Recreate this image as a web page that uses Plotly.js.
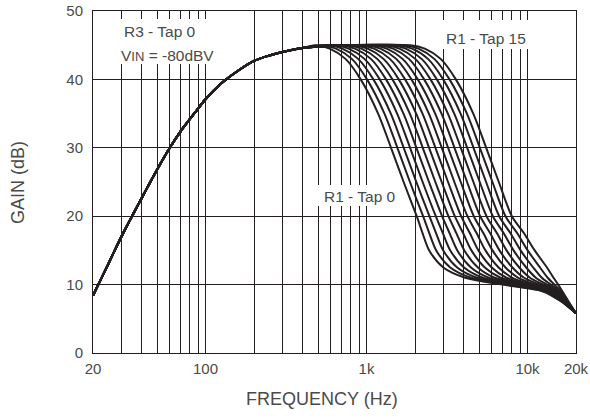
<!DOCTYPE html>
<html>
<head>
<meta charset="utf-8">
<script src="https://cdn.plot.ly/plotly-3.0.1.min.js"></script>
<style>
  html, body { margin: 0; padding: 0; background: #fff; }
  #chart { width: 590px; height: 418px; }
</style>
</head>
<body>
<div id="chart"></div>
<script>
// ---- Data ----
// Shared low-frequency rise (all taps identical here)
const riseFreq = [20, 25, 30, 40, 50, 60, 70, 85, 100, 125, 160, 200, 250, 300, 400];
const riseGain = [8.4, 13.1, 17.0, 22.6, 26.8, 30.0, 32.4, 35.0, 37.1, 39.4, 41.3, 42.7, 43.5, 44.0, 44.6];

// Gain levels of the roll-off, and the frequency (Hz) at which each tap reaches them
const dropGain = [45.0, 44.5, 43, 40, 35, 30, 25, 20, 17.5, 15, 12.5, 11, 10, 9, 7.6, 5.8];
const tap0  = [480, 590, 740, 920, 1180, 1420, 1700, 2050, 2230, 2450, 3000, 4100, 7000, 12500, 16000, 20000];
const tap1  = [526, 646, 810, 1007, 1292, 1555, 1861, 2245, 2456, 2709, 3311, 4460, 7381, 12733, 16120, 20000];
const tap2  = [575, 707, 887, 1103, 1415, 1702, 2038, 2458, 2706, 2996, 3655, 4852, 7782, 12969, 16240, 20000];
const tap3  = [630, 774, 971, 1208, 1549, 1864, 2231, 2691, 2981, 3313, 4035, 5279, 8205, 13210, 16360, 20000];
const tap4  = [690, 848, 1064, 1322, 1696, 2041, 2443, 2946, 3283, 3663, 4454, 5743, 8651, 13456, 16490, 20000];
const tap5  = [756, 929, 1165, 1448, 1857, 2235, 2676, 3227, 3617, 4051, 4916, 6248, 9122, 13706, 16610, 20000];
const tap6  = [827, 1017, 1275, 1585, 2034, 2447, 2930, 3533, 3984, 4480, 5426, 6797, 9618, 13961, 16740, 20000];
const tap7  = [906, 1113, 1396, 1736, 2226, 2679, 3208, 3868, 4388, 4953, 5990, 7394, 10142, 14220, 16860, 20000];
const tap8  = [992, 1219, 1529, 1901, 2438, 2934, 3512, 4235, 4834, 5478, 6611, 8044, 10693, 14485, 16990, 20000];
const tap9  = [1086, 1335, 1674, 2081, 2669, 3212, 3846, 4637, 5325, 6057, 7298, 8751, 11274, 14754, 17120, 20000];
const tap10 = [1189, 1462, 1833, 2279, 2923, 3518, 4212, 5079, 5866, 6698, 8056, 9520, 11887, 15029, 17250, 20000];
const tap11 = [1302, 1600, 2007, 2496, 3201, 3852, 4611, 5561, 6461, 7407, 8892, 10357, 12534, 15308, 17380, 20000];
const tap12 = [1426, 1753, 2198, 2733, 3506, 4219, 5050, 6090, 7117, 8190, 9815, 11267, 13216, 15593, 17510, 20000];
const tap13 = [1561, 1919, 2407, 2992, 3838, 4618, 5529, 6667, 7840, 9057, 10835, 12257, 13935, 15883, 17640, 20000];
const tap14 = [1709, 2101, 2635, 3276, 4202, 5057, 6054, 7300, 8636, 10015, 11959, 13334, 14692, 16178, 17780, 20000];
const tap15 = [1872, 2301, 2886, 3587, 4601, 5537, 6629, 7994, 9513, 11075, 13201, 14506, 15492, 16479, 17900, 20000];
const taps = [tap0, tap1, tap2, tap3, tap4, tap5, tap6, tap7, tap8, tap9, tap10, tap11, tap12, tap13, tap14, tap15];

// Axis ticks / grid
const gridFreqs = [20, 30, 40, 50, 60, 70, 80, 90, 100, 200, 300, 400, 500, 600, 700, 800, 900,
                   1000, 2000, 3000, 4000, 5000, 6000, 7000, 8000, 9000, 10000, 20000];
const gridLabels = ['20', '', '', '', '', '', '', '', '100', '', '', '', '', '', '', '', '',
                    '1k', '', '', '', '', '', '', '', '', '10k', '20k'];
const yTicks = [0, 10, 20, 30, 40, 50];

// ---- Layout helpers (pixel -> paper) ----
const L = 93, R = 576, T = 11, B = 353;
const px = x => (x - L) / (R - L);
const py = y => (B - y) / (B - T);

const ink = '#231f20';
const textCol = '#4a4a4a';
const FONT = 'Liberation Sans, Arial, Helvetica, sans-serif';

const traces = taps.map(tf => ({
  x: riseFreq.concat(tf),
  y: riseGain.concat(dropGain),
  type: 'scatter',
  mode: 'lines',
  line: { color: ink, width: 2, shape: 'spline', smoothing: 0.8 },
  hoverinfo: 'skip',
  showlegend: false
}));

const whiteBox = (x0, y0, x1, y1) => ({
  type: 'rect', xref: 'paper', yref: 'paper', layer: 'above',
  x0: px(x0), x1: px(x1), y0: py(y1), y1: py(y0),
  fillcolor: '#ffffff', line: { width: 0 }
});

const layout = {
  width: 590, height: 418,
  margin: { l: L, r: 590 - R, t: T, b: 418 - B },
  paper_bgcolor: '#ffffff', plot_bgcolor: '#ffffff',
  font: { family: FONT, color: textCol, size: 15 },
  showlegend: false,
  xaxis: {
    type: 'log',
    range: [Math.log10(20) - 1e-9, Math.log10(20000) + 1e-9],
    tickmode: 'array', tickvals: gridFreqs, ticktext: gridLabels,
    ticks: '', showgrid: true, gridcolor: ink, gridwidth: 1,
    showline: true, mirror: true, linecolor: ink, linewidth: 1,
    zeroline: false, tickfont: { size: 15, color: textCol, family: FONT },
    ticklabelstandoff: 2
  },
  yaxis: {
    range: [0, 50], tickmode: 'array', tickvals: yTicks,
    ticks: '', showgrid: true, gridcolor: ink, gridwidth: 1,
    showline: true, mirror: true, linecolor: ink, linewidth: 1,
    zeroline: false, tickfont: { size: 15, color: textCol, family: FONT },
    ticklabelstandoff: 6
  },
  shapes: [
    whiteBox(116, 19, 226, 64),
    whiteBox(437, 20, 536, 49),
    whiteBox(317, 185, 403, 206)
  ],
  annotations: [
    { xref: 'paper', yref: 'paper', x: px(122), y: py(31), xanchor: 'left', yanchor: 'middle',
      text: 'R3 - Tap 0', showarrow: false, font: { size: 15.5, color: textCol, family: FONT } },
    { xref: 'paper', yref: 'paper', x: px(119), y: py(56), xanchor: 'left', yanchor: 'middle',
      text: "V<span style='font-size:13px'>IN</span> = -80dBV", showarrow: false,
      font: { size: 15.5, color: textCol, family: FONT } },
    { xref: 'paper', yref: 'paper', x: px(486), y: py(38), xanchor: 'center', yanchor: 'middle',
      text: 'R1 - Tap 15', showarrow: false, font: { size: 15.5, color: textCol, family: FONT } },
    { xref: 'paper', yref: 'paper', x: px(360), y: py(196), xanchor: 'center', yanchor: 'middle',
      text: 'R1 - Tap 0', showarrow: false, font: { size: 15.5, color: textCol, family: FONT } },
    { xref: 'paper', yref: 'paper', x: px(322), y: py(399), xanchor: 'center', yanchor: 'middle',
      text: 'FREQUENCY (Hz)', showarrow: false, font: { size: 18, color: textCol, family: FONT } },
    { xref: 'paper', yref: 'paper', x: px(18), y: py(183), xanchor: 'center', yanchor: 'middle',
      text: 'GAIN (dB)', textangle: -90, showarrow: false, font: { size: 18, color: textCol, family: FONT } }
  ]
};

Plotly.newPlot('chart', traces, layout, { staticPlot: true, displayModeBar: false });
</script>
</body>
</html>
